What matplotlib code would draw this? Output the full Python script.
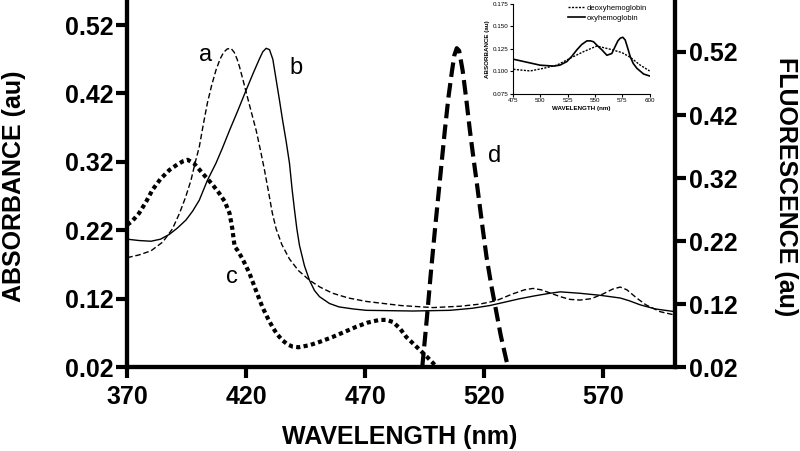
import numpy as np
import matplotlib
matplotlib.use('Agg')
import matplotlib.pyplot as plt

plt.rcParams['font.family'] = ['Liberation Sans', 'DejaVu Sans']

# curve a : thin dashed absorbance
wl_a = [370, 375, 380, 385, 389, 392, 394.5, 396.8, 398.5, 400.3, 402, 403.7, 405.5, 407.3,
        409, 410.5, 412, 413.6, 415, 416.2, 417.2, 418.8, 420.5, 422.3, 424.2, 426, 427.7,
        429.4, 431, 432.6, 435, 438.2, 442, 446.6, 451, 456.3, 463, 470.5, 485, 498.5, 510,
        518, 525, 532, 537, 540.5, 544, 548, 552, 556, 560.3, 565, 570, 574, 577.2, 580,
        584.1, 588, 594, 600.3]
abs_a = [0.180, 0.184, 0.190, 0.203, 0.222, 0.245, 0.268, 0.293, 0.318, 0.342, 0.375, 0.406,
         0.432, 0.454, 0.470, 0.480, 0.485, 0.486, 0.480, 0.470, 0.459, 0.438, 0.415, 0.391,
         0.366, 0.337, 0.308, 0.276, 0.245, 0.222, 0.199, 0.178, 0.161, 0.147, 0.137, 0.128,
         0.121, 0.116, 0.110, 0.107, 0.109, 0.112, 0.117, 0.127, 0.133, 0.135, 0.133, 0.128,
         0.123, 0.119, 0.118, 0.120, 0.127, 0.134, 0.137, 0.133, 0.121, 0.111, 0.101, 0.096]

# curve b : thin solid absorbance
wl_b = [370, 375, 380, 384, 387.7, 391, 394.7, 397.5, 400.3, 403.7, 407.3, 410, 413, 416.5,
        420, 423, 425.5, 427, 428.4, 429.8, 431.2, 432.6, 434, 435.3, 436.8, 438.2, 439.3,
        440.3, 441.3, 442.4, 444.5, 446.6, 448.7, 450.8, 455, 459, 465, 470.5, 490, 505.6,
        515, 522.4, 530, 535, 541, 547.7, 552, 560, 568.7, 577.2, 581, 585.6, 592, 600.3]
abs_b = [0.207, 0.205, 0.204, 0.207, 0.214, 0.223, 0.235, 0.248, 0.264, 0.293, 0.318, 0.340,
         0.366, 0.395, 0.425, 0.450, 0.470, 0.481, 0.486, 0.484, 0.470, 0.440, 0.410, 0.381,
         0.350, 0.318, 0.280, 0.250, 0.222, 0.198, 0.168, 0.147, 0.132, 0.123, 0.113, 0.108,
         0.105, 0.103, 0.102, 0.103, 0.106, 0.110, 0.116, 0.120, 0.124, 0.128, 0.130, 0.128,
         0.125, 0.121, 0.117, 0.111, 0.105, 0.101]

# curve c : thick dotted absorbance
wl_c = [370, 372, 375, 378, 380.6, 384, 387.7, 391, 393.5, 395.4, 398, 400.5, 403, 405.8,
        408.7, 411, 413, 414.2, 414.8, 415.2, 416.3, 418.5, 421.4, 424, 426.8, 429, 431, 433,
        435.3, 437.5, 439.5, 442, 446.6, 451, 456.3, 461, 466.3, 471, 476, 479, 481.6, 484.5,
        487.3, 490, 493, 496, 498.5, 500]
abs_c = [0.228, 0.233, 0.245, 0.262, 0.279, 0.295, 0.308, 0.316, 0.321, 0.323, 0.318, 0.308,
         0.298, 0.287, 0.274, 0.262, 0.245, 0.222, 0.205, 0.196, 0.191, 0.178, 0.157, 0.133,
         0.108, 0.092, 0.079, 0.068, 0.059, 0.053, 0.050, 0.049, 0.052, 0.057, 0.064, 0.071,
         0.079, 0.085, 0.089, 0.089, 0.086, 0.077, 0.064, 0.055, 0.045, 0.035, 0.026, 0.020]

# curve d : thick dashed fluorescence (right axis)
wl_d = [494, 495, 496, 497.5, 499.3, 501.5, 503.5, 505, 506.5, 507.5, 508.5, 509.5, 511,
        512.5, 514, 515.5, 517, 519.5, 521, 523, 525, 527, 530]
flu_d = [0.02, 0.06, 0.10, 0.165, 0.237, 0.32, 0.396, 0.448, 0.49, 0.515, 0.526, 0.522, 0.49,
         0.445, 0.396, 0.352, 0.31, 0.237, 0.195, 0.15, 0.11, 0.07, 0.02]

# inset
in_wl_oxy = [475.6, 500, 512.2, 518, 524.4, 529, 533.5, 538, 542.7, 546, 548.8, 552, 556.4,
             561, 565.5, 568.6, 571, 573.2, 575.5, 577.7, 580, 582.3, 585, 588.4, 594.5, 600]
in_oxy = [0.1136, 0.107, 0.106, 0.107, 0.111, 0.117, 0.124, 0.130, 0.134, 0.134, 0.133,
          0.129, 0.124, 0.118, 0.120, 0.128, 0.134, 0.137, 0.138, 0.135, 0.126, 0.1165, 0.109,
          0.1035, 0.0972, 0.095]
in_wl_deoxy = [475.6, 490.9, 503, 515.2, 527.4, 539.6, 551.8, 564, 574.7, 582.3, 591.5, 600]
in_deoxy = [0.1024, 0.1006, 0.1035, 0.107, 0.1147, 0.122, 0.1283, 0.1247, 0.121, 0.1158,
            0.107, 0.1006]

yticks = [0.02, 0.12, 0.22, 0.32, 0.42, 0.52]
xticks = [370, 420, 470, 520, 570]

fig = plt.figure(figsize=(8, 4.51), dpi=100)
ax = fig.add_axes([0.159, 0.186, 0.685, 0.814])
ax2 = ax.twinx()

ax.plot(wl_a, abs_a, color='black', lw=1.0, dashes=(4, 2))
ax.plot(wl_b, abs_b, color='black', lw=1.0)
ax.plot(wl_c, abs_c, color='black', lw=3.0, dashes=(1, 0.8))
ax2.plot(wl_d, flu_d, color='black', lw=3.0, dashes=(3.5, 1.5))

ax.set_xlim(370, 600.3)
ax.set_ylim(0.02, 0.5566)
ax2.set_ylim(0.02, 0.6025)
ax.set_xticks(xticks)
ax.set_yticks(yticks)
ax2.set_yticks(yticks)
ax.set_yticklabels(['%.2f' % t for t in yticks])
ax2.set_yticklabels(['%.2f' % t for t in yticks])

for a in (ax, ax2):
    a.spines['top'].set_visible(False)
    for s in ('left', 'right', 'bottom'):
        a.spines[s].set_linewidth(3)
ax.tick_params(axis='both', direction='out', length=8, width=3, labelsize=18, pad=2)
ax.tick_params(axis='x', pad=5)
ax2.tick_params(axis='y', direction='out', length=8, width=3, labelsize=18, pad=2)
for lab in ax.get_xticklabels() + ax.get_yticklabels() + ax2.get_yticklabels():
    lab.set_fontweight('bold')

ax.text(403, 0.476, 'a', fontsize=17, ha='center', va='center')
ax.text(441, 0.457, 'b', fontsize=17, ha='center', va='center')
ax.text(414, 0.152, 'c', fontsize=17, ha='center', va='center')
ax.text(524.5, 0.328, 'd', fontsize=17, ha='center', va='center')

fig.text(0.018, 0.587, 'ABSORBANCE (au)', rotation=90, fontsize=18, fontweight='bold',
         ha='center', va='center')
fig.text(0.983, 0.587, 'FLUORESCENCE (au)', rotation=270, fontsize=18, fontweight='bold',
         ha='center', va='center')
fig.text(0.4995, 0.031, 'WAVELENGTH (nm)', fontsize=18, fontweight='bold',
         ha='center', va='center')

# inset
ins = fig.add_axes([0.641, 0.7916, 0.171, 0.1996])
ins.plot(in_wl_deoxy, in_deoxy, color='black', lw=1.0, dashes=(1.5, 1), label='deoxyhemoglobin')
ins.plot(in_wl_oxy, in_oxy, color='black', lw=1.2, label='oxyhemoglobin')
ins.set_xlim(475, 600)
ins.set_ylim(0.075, 0.175)
ins.set_xticks([475, 500, 525, 550, 575, 600])
ins.set_yticks([0.075, 0.100, 0.125, 0.150, 0.175])
ins.set_yticklabels(['0.075', '0.100', '0.125', '0.150', '0.175'])
ins.spines['top'].set_visible(False)
ins.spines['right'].set_visible(False)
ins.tick_params(labelsize=4.5, length=2, width=0.8, pad=1)
ins.set_ylabel('ABSORBANCE (au)', fontsize=4.5, fontweight='bold', labelpad=2)
ins.set_xlabel('WAVELENGTH (nm)', fontsize=4.5, fontweight='bold', labelpad=2)
ins.legend(loc='upper right', bbox_to_anchor=(1.02, 1.05), frameon=False, fontsize=5.5,
           handlelength=2.2, handletextpad=0.2, labelspacing=0.3, borderpad=0.2)
ins.patch.set_alpha(0)

fig.savefig('out.png', dpi=100)
